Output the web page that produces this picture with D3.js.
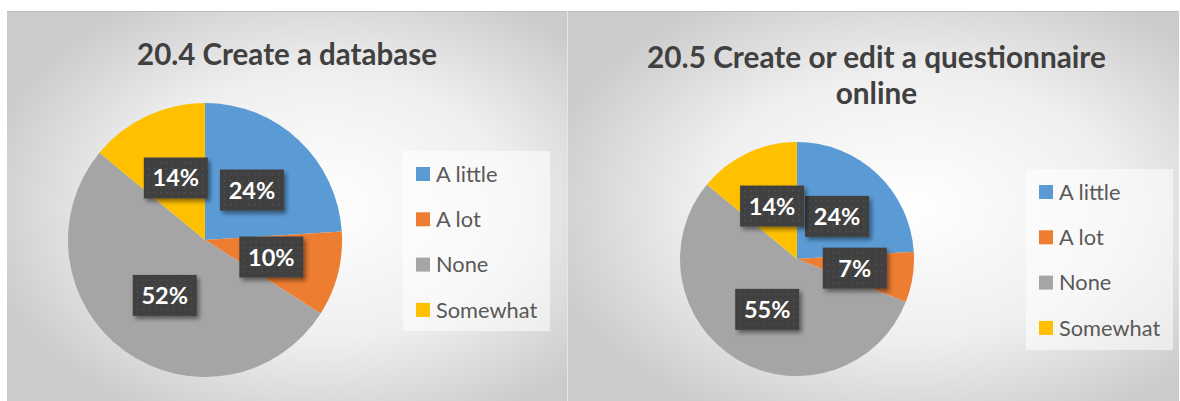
<!DOCTYPE html>
<html>
<head>
<meta charset="utf-8">
<script src="https://cdn.jsdelivr.net/npm/d3@7"></script>
<style>
  html, body { margin: 0; padding: 0; background: #ffffff; }
  svg { display: block; }
</style>
</head>
<body>
<svg id="chart" width="1180" height="401"></svg>
<script>
// ---- data ----
const categories = ["A little", "A lot", "None", "Somewhat"];
const colors = ["#5B9BD5", "#ED7D31", "#A5A5A5", "#FFC000"];
const chart1Title = ["20.4 Create a database"];
const chart1Values = [24, 10, 52, 14];
const chart2Title = ["20.5 Create or edit a questionnaire", "online"];
const chart2Values = [24, 7, 55, 14];

const svg = d3.select("#chart");
const defs = svg.append("defs");

// background gradient
const grad = defs.append("radialGradient").attr("id", "bg")
  .attr("cx", "0.56").attr("cy", "0.5").attr("r", "0.62");
grad.append("stop").attr("offset", "0").attr("stop-color", "#ffffff");
grad.append("stop").attr("offset", "0.55").attr("stop-color", "#efefef");
grad.append("stop").attr("offset", "1").attr("stop-color", "#cbcbcb");

// dotted label texture
const pat = defs.append("pattern").attr("id", "dots")
  .attr("width", 6).attr("height", 6).attr("patternUnits", "userSpaceOnUse");
pat.append("rect").attr("width", 6).attr("height", 6).attr("fill", "#3f3f3f");
pat.append("rect").attr("x", 2).attr("y", 2).attr("width", 1.4).attr("height", 1.4).attr("fill", "#575757");

const shadow = defs.append("filter").attr("id", "shadow")
  .attr("x", "-30%").attr("y", "-30%").attr("width", "160%").attr("height", "160%");
shadow.append("feDropShadow").attr("dx", 2.5).attr("dy", 3).attr("stdDeviation", 2)
  .attr("flood-color", "#000").attr("flood-opacity", 0.45);

const panels = [
  { x: 7, w: 560, title: chart1Title, values: chart1Values, cx: 205, cy: 240, r: 137,
    titleY: 65, legX: 403, legY: 151, legW: 147, legH: 180, itemY0: 174 },
  { x: 568, w: 611, title: chart2Title, values: chart2Values, cx: 797, cy: 259, r: 117,
    titleY: 68, legX: 1026, legY: 169, legW: 147, legH: 181, itemY0: 192 }
];

const panelTop = 11, panelBottom = 401;

panels.forEach((p, pi) => {
  const g = svg.append("g");
  g.append("rect").attr("x", p.x).attr("y", panelTop).attr("width", p.w).attr("height", panelBottom - panelTop)
    .attr("fill", "url(#bg)");
  g.append("line").attr("x1", p.x).attr("x2", p.x + p.w).attr("y1", panelTop + 0.5).attr("y2", panelTop + 0.5)
    .attr("stroke", "#bdbdbd").attr("stroke-width", 1);

  // title
  const tcx = p.x + p.w / 2 + (pi === 0 ? 0 : 3);
  const title = g.append("text").attr("text-anchor", "middle")
    .attr("font-family", "Lato, 'Open Sans', sans-serif").attr("font-weight", "bold")
    .attr("font-size", 30).attr("fill", "#404040");
  p.title.forEach((line, i) => {
    title.append("tspan").attr("x", tcx).attr("y", p.titleY + i * 36).text(line);
  });
  const first = title.select("tspan");
  const w = first.node().getComputedTextLength();
  const targetW = pi === 0 ? 300 : 459;
  title.attr("font-size", 30 * targetW / w);

  // pie
  const pie = d3.pie().sort(null).value(d => d)(p.values);
  const arc = d3.arc().innerRadius(0).outerRadius(p.r);
  const pg = g.append("g").attr("transform", `translate(${p.cx},${p.cy})`);
  pg.selectAll("path").data(pie).join("path")
    .attr("d", arc).attr("fill", (d, i) => colors[i]);

  // labels
  const lab = pg.selectAll("g.lab").data(pie).join("g").attr("class", "lab")
    .attr("transform", d => `translate(${arc.centroid(d)})`);
  lab.append("rect").attr("x", -32).attr("y", -20.5).attr("width", 64).attr("height", 41)
    .attr("fill", "url(#dots)").attr("filter", "url(#shadow)");
  lab.append("text").attr("text-anchor", "middle").attr("dy", "0.36em")
    .attr("font-family", "Lato, 'Open Sans', sans-serif").attr("font-weight", "bold")
    .attr("font-size", 23.5).attr("fill", "#ffffff")
    .text(d => d.data + "%");

  // legend
  g.append("rect").attr("x", p.legX).attr("y", p.legY).attr("width", p.legW).attr("height", p.legH)
    .attr("fill", "#ffffff").attr("fill-opacity", 0.55);
  const y = d3.scalePoint().domain(categories).range([p.itemY0, p.itemY0 + 3 * 45.3]);
  const li = g.selectAll("g.leg").data(categories).join("g").attr("class", "leg")
    .attr("transform", d => `translate(${p.legX + 13},${y(d)})`);
  li.append("rect").attr("x", 0).attr("y", -7).attr("width", 14).attr("height", 14)
    .attr("fill", (d, i) => colors[i]);
  li.append("text").attr("x", 20).attr("dy", "0.36em")
    .attr("font-family", "Lato, 'Open Sans', sans-serif").attr("font-size", 21.8)
    .attr("fill", "#595959").text(d => d);
});

// panel divider
svg.append("line").attr("x1", 567.5).attr("x2", 567.5).attr("y1", panelTop).attr("y2", panelBottom)
  .attr("stroke", "#e6e6e6").attr("stroke-width", 1);
</script>
</body>
</html>
